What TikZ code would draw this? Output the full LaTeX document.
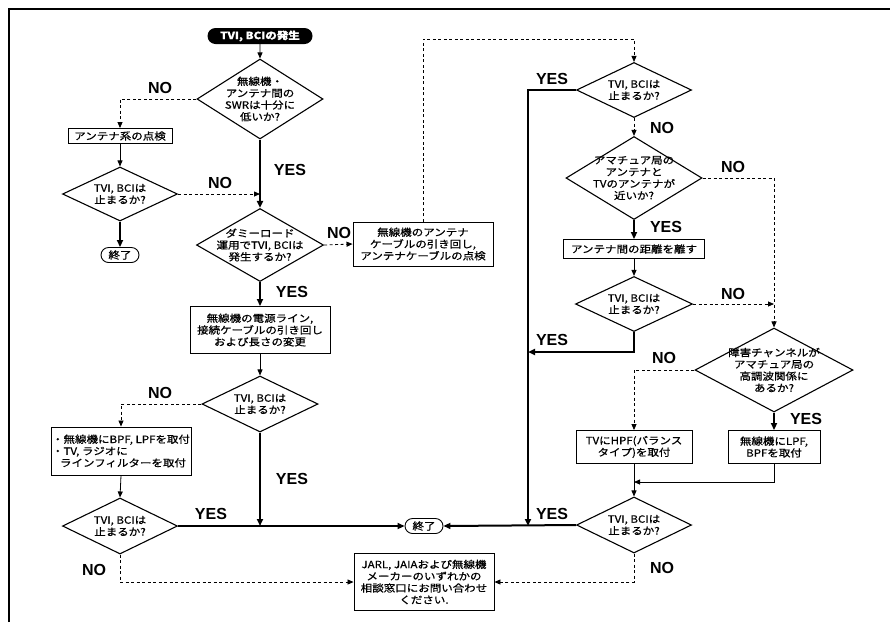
\documentclass[tikz,border=0pt]{standalone}
\usepackage{fontspec}
\setmainfont{Noto Sans CJK JP}[FakeStretch=1.15, FakeBold=0.8]
\newfontfamily\labfont{Liberation Sans}
\usetikzlibrary{shapes.geometric,shapes.misc,arrows.meta}
\begin{document}
\begin{tikzpicture}[x=1pt,y=-1pt,
 every node/.style={font=\fontsize{10}{11.8}\selectfont, align=center, inner sep=1pt},
 dia/.style={draw, diamond, line width=1.1pt, inner sep=0pt},
 box/.style={draw, rectangle, line width=0.9pt, inner sep=0pt},
 term/.style={draw, rounded rectangle, line width=0.9pt, inner sep=0pt, minimum width=38, minimum height=15},
 dtxt/.style={font=\fontsize{10}{11.8}\selectfont, align=center, inner sep=0pt},
 thinar/.style={line width=0.8pt, -{Triangle[length=6pt,width=5pt]}},
 thickar/.style={line width=2pt, -{Triangle[length=7pt,width=6pt]}},
 dsh/.style={line width=0.8pt, dash pattern=on 3pt off 2.5pt, -{Triangle[length=6pt,width=5pt]}},
 yn/.style={font=\labfont\bfseries\fontsize{16}{16}\selectfont, inner sep=0pt}
]
\useasboundingbox (0,0) rectangle (890,622);
\draw[line width=2pt] (9,622) -- (9,9) -- (890,9);

% left column
\node[fill=black, rounded rectangle, text=white, minimum width=105, minimum height=16, inner sep=0pt, font=\bfseries\fontsize{10}{11.8}\selectfont] (start) at (260,36) {TVI, BCIの発生};
\node[dia, minimum width=126, minimum height=80] (d1) at (260,99) {};
\node[dtxt] (d1t) at (d1) {無線機・\\アンテナ間の\\SWRは十分に\\低いか?};
\node[box, minimum width=104, minimum height=15] (b1) at (120,136) {アンテナ系の点検};
\node[dia, minimum width=115, minimum height=54] (d2) at (120,194) {};
\node[dtxt] (d2t) at (d2) {TVI, BCIは\\止まるか?};
\node[term] (e1) at (120,255) {終了};
\node[dia, minimum width=127, minimum height=73] (d3) at (260,245) {};
\node[dtxt] (d3t) at (d3) {ダミーロード\\運用でTVI, BCIは\\発生するか?};
\node[box, minimum width=140, minimum height=44] (b2) at (423,244) {無線機のアンテナ\\ケーブルの引き回し,\\アンテナケーブルの点検};
\node[box, minimum width=140, minimum height=47] (b6) at (260,330) {無線機の電源ライン,\\接続ケーブルの引き回し\\および長さの変更};
\node[dia, minimum width=116, minimum height=56] (d9) at (260,404) {};
\node[dtxt] (d9t) at (d9) {TVI, BCIは\\止まるか?};
\node[box, minimum width=140, minimum height=48, align=left] (b8) at (121,451) {・無線機にBPF, LPFを取付\\・TV, ラジオに\\\hspace*{0.8em}ラインフィルターを取付};
\node[dia, minimum width=115, minimum height=56] (d10) at (120,526) {};
\node[dtxt] (d10t) at (d10) {TVI, BCIは\\止まるか?};
\node[term] (e2) at (424,526) {終了};
\node[box, minimum width=140, minimum height=57] (b7) at (424,582) {JARL, JAIAおよび無線機\\メーカーのいずれかの\\相談窓口にお問い合わせ\\ください.};

% right column
\node[dia, minimum width=115, minimum height=55] (d4) at (634,90) {};
\node[dtxt] (d4t) at (d4) {TVI, BCIは\\止まるか?};
\node[dia, minimum width=136, minimum height=83] (d5) at (634,178) {};
\node[dtxt] (d5t) at (d5) {アマチュア局の\\アンテナと\\TVのアンテナが\\近いか?};
\node[box, minimum width=141, minimum height=19] (b3) at (634,249) {アンテナ間の距離を離す};
\node[dia, minimum width=117, minimum height=55] (d6) at (634,304) {};
\node[dtxt] (d6t) at (d6) {TVI, BCIは\\止まるか?};
\node[dia, minimum width=158, minimum height=84] (d7) at (774,370) {};
\node[dtxt] (d7t) at (d7) {障害チャンネルが\\アマチュア局の\\高調波関係に\\あるか?};
\node[box, minimum width=116, minimum height=33] (b4) at (634,447) {TVにHPF(バランス\\タイプ)を取付};
\node[box, minimum width=92, minimum height=33] (b5) at (774,447) {無線機にLPF,\\BPFを取付};
\node[dia, minimum width=115, minimum height=56] (d8) at (634,525) {};
\node[dtxt] (d8t) at (d8) {TVI, BCIは\\止まるか?};

\coordinate (ctop) at (423,39);
\coordinate (jv) at (528,526);
\coordinate (j6) at (528,352);
\coordinate (j5) at (634,482);

% connectors left
\draw[thinar] (start) -- (d1);
\draw[dsh] (d1.west) -| (b1.north);
\draw[thickar] (d1.south) -- (d3.north);
\draw[thinar] (b1.south) -- (d2.north);
\draw[dsh] (d2.east) -- (d2.east -| d1.south);
\draw[thickar] (d2.south) -- (e1.north);
\draw[dsh] (d3.east) -- (b2.west);
\draw[dsh] (b2.north) -- (ctop) -| (d4.north);
\draw[thickar] (d3.south) -- (b6.north);
\draw[thinar] (b6.south) -- (d9.north);
\draw[dsh] (d9.west) -| (b8.north);
\draw[thickar] (d9.south) -- (d9.south |- e2.west);
\draw[thinar] (b8.south) -- (d10.north);
\draw[thickar] (d10.east) -- (e2.west);
\draw[dsh] (d10.south) |- (b7.west);

% connectors right
\draw[thickar] (d4.west) -| (jv);
\draw[dsh] (d4.south) -- (d5.north);
\draw[dsh] (d5.east) -| (d7.north);
\draw[thickar] (d5.south) -- (b3.north);
\draw[thinar] (b3.south) -- (d6.north);
\draw[dsh] (d6.east) -- (d6.east -| d7.north);
\draw[thickar] (d6.south) |- (j6);
\draw[dsh] (d7.west) -| (b4.north);
\draw[thickar] (d7.south) -- (b5.north);
\draw[thinar] (b5.south) |- (j5);
\draw[thinar] (b4.south) -- (d8.north);
\draw[thickar] (d8.west) -- (e2.east);
\draw[dsh] (d8.south) |- (b7.east);

% labels
\node[yn] (l1) at (160,88) {NO};
\node[yn] (l2) at (290,170) {YES};
\node[yn] (l3) at (220,183) {NO};
\node[yn] (l4) at (339,233) {NO};
\node[yn] (l5) at (292,292) {YES};
\node[yn] (l6) at (160,393) {NO};
\node[yn] (l7) at (292,479) {YES};
\node[yn] (l8) at (211,514) {YES};
\node[yn] (l9) at (94,570) {NO};
\node[yn] (l10) at (552,79) {YES};
\node[yn] (l11) at (662,128) {NO};
\node[yn] (l12) at (733,167) {NO};
\node[yn] (l13) at (666,227) {YES};
\node[yn] (l14) at (733,294) {NO};
\node[yn] (l15) at (552,340) {YES};
\node[yn] (l16) at (664,358) {NO};
\node[yn] (l17) at (806,419) {YES};
\node[yn] (l18) at (552,514) {YES};
\node[yn] (l19) at (662,568) {NO};
\end{tikzpicture}
\end{document}
